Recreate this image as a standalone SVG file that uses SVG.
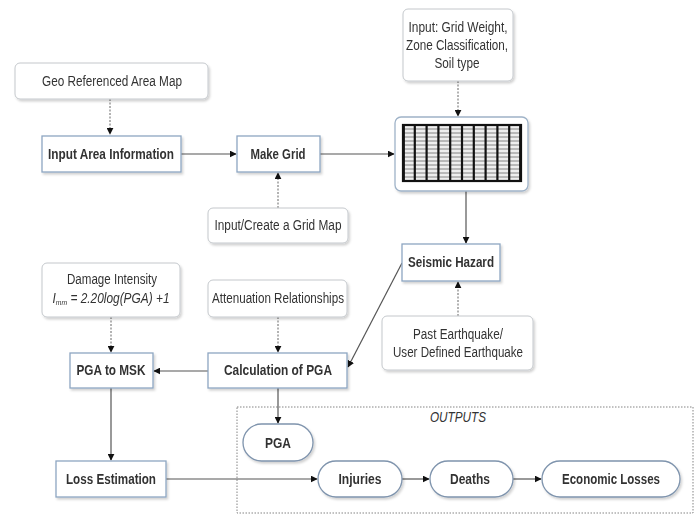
<svg xmlns="http://www.w3.org/2000/svg" width="700" height="515" viewBox="0 0 700 515">
<style>
text{font-family:"Liberation Sans Narrow","Liberation Sans",Arial,sans-serif;fill:#333;text-anchor:middle}
.in{font-size:14px}
.b{font-size:14px;font-weight:bold}
.it{font-style:italic}
.inbox{fill:#fff;stroke:#c4c8cc;stroke-width:1}
.proc{fill:#fff;stroke:#8ea6c2;stroke-width:1.3}
.pill{fill:#fff;stroke:#7f94ad;stroke-width:1.3}
.c{fill:none;stroke:#555;stroke-width:1.2}
.d{fill:none;stroke:#666;stroke-width:1;stroke-dasharray:2 1.5}
.out{fill:none;stroke:#777;stroke-width:0.9;stroke-dasharray:1.5 1.5}
</style>
<defs>
<marker id="ah" viewBox="0 0 10 10" refX="9" refY="5" markerWidth="7" markerHeight="7" markerUnits="userSpaceOnUse" orient="auto">
<path d="M0,0 L10,5 L0,10 z" fill="#111"/>
</marker>
<filter id="ds" x="-10%" y="-10%" width="130%" height="140%">
<feDropShadow dx="1.5" dy="2" stdDeviation="1.2" flood-color="#000" flood-opacity="0.18"/>
</filter>
</defs>
<rect width="700" height="515" fill="#fff"/>

<g id="outputs-frame">
<rect class="out" x="237" y="407" width="456" height="106"/>
<text class="in it" x="458" y="422" textLength="56" lengthAdjust="spacingAndGlyphs">OUTPUTS</text>
</g>

<g id="connectors">
<path class="d" d="M110,99 V134" marker-end="url(#ah)"/>
<path class="c" d="M181,154 H236" marker-end="url(#ah)"/>
<path class="c" d="M320,154 H394" marker-end="url(#ah)"/>
<path class="d" d="M278,208 V173" marker-end="url(#ah)"/>
<path class="d" d="M458,81 V116" marker-end="url(#ah)"/>
<path class="c" d="M466,191 V243" marker-end="url(#ah)"/>
<path class="d" d="M458,316 V282" marker-end="url(#ah)"/>
<path class="c" d="M402,263 L348,367" marker-end="url(#ah)"/>
<path class="d" d="M278,317 V352" marker-end="url(#ah)"/>
<path class="d" d="M111,317 V352" marker-end="url(#ah)"/>
<path class="c" d="M208,371 H154" marker-end="url(#ah)"/>
<path class="c" d="M111,388 V460" marker-end="url(#ah)"/>
<path class="c" d="M278,388 V423" marker-end="url(#ah)"/>
<path class="c" d="M166,479 H317" marker-end="url(#ah)"/>
<path class="c" d="M402,479 H429" marker-end="url(#ah)"/>
<path class="c" d="M513,479 H541" marker-end="url(#ah)"/>
</g>

<g id="geo-map" filter="url(#ds)">
<rect class="inbox" x="15" y="63" width="193" height="36" rx="5"/>
<text class="in" x="112" y="86" textLength="140" lengthAdjust="spacingAndGlyphs">Geo Referenced Area Map</text>
</g>

<g id="input-area" filter="url(#ds)">
<rect class="proc" x="42" y="136" width="139" height="36"/>
<text class="b" x="111" y="159" textLength="126" lengthAdjust="spacingAndGlyphs">Input Area Information</text>
</g>

<g id="make-grid" filter="url(#ds)">
<rect class="proc" x="237" y="136" width="83" height="36"/>
<text class="b" x="278" y="159" textLength="55" lengthAdjust="spacingAndGlyphs">Make Grid</text>
</g>

<g id="grid-map-input" filter="url(#ds)">
<rect class="inbox" x="208" y="208" width="140" height="35" rx="5"/>
<text class="in" x="278" y="230" textLength="127" lengthAdjust="spacingAndGlyphs">Input/Create a Grid Map</text>
</g>

<g id="grid-weight-input" filter="url(#ds)">
<rect class="inbox" x="403" y="9" width="110" height="72" rx="5"/>
<text class="in" x="458" y="32" textLength="99" lengthAdjust="spacingAndGlyphs">Input: Grid Weight,</text>
<text class="in" x="457" y="50" textLength="102" lengthAdjust="spacingAndGlyphs">Zone Classification,</text>
<text class="in" x="457" y="68" textLength="45" lengthAdjust="spacingAndGlyphs">Soil type</text>
</g>

<g id="grid">
<rect class="proc" x="395" y="117" width="133" height="74" rx="6" filter="url(#ds)" style="stroke:#9fb3c8"/>
<rect x="403" y="125" width="118" height="56" fill="#eee"/>
<path fill="none" stroke="#777" stroke-width="0.9" d="M403,129H521M403,133H521M403,137H521M403,141H521M403,145H521M403,149H521M403,153H521M403,157H521M403,161H521M403,165H521M403,169H521M403,173H521M403,177H521"/>
<path fill="none" stroke="#111" stroke-width="2.2" d="M403.8,125V181M414.8,125V181M426.6,125V181M438.4,125V181M450.2,125V181M462,125V181M473.8,125V181M485.6,125V181M497.4,125V181M509.2,125V181M520.2,125V181"/>
<rect x="403" y="125" width="118" height="56" fill="none" stroke="#111" stroke-width="2.2"/>
</g>

<g id="seismic-hazard" filter="url(#ds)">
<rect class="proc" x="402" y="244" width="98" height="37"/>
<text class="b" x="451" y="267" textLength="86" lengthAdjust="spacingAndGlyphs">Seismic Hazard</text>
</g>

<g id="past-earthquake" filter="url(#ds)">
<rect class="inbox" x="382" y="316" width="151" height="54" rx="5"/>
<text class="in" x="458" y="339" textLength="90" lengthAdjust="spacingAndGlyphs">Past Earthquake/</text>
<text class="in" x="458" y="357" textLength="130" lengthAdjust="spacingAndGlyphs">User Defined Earthquake</text>
</g>

<g id="damage-intensity" filter="url(#ds)">
<rect class="inbox" x="42" y="263" width="138" height="54" rx="5"/>
<text class="in" x="112" y="284" textLength="90" lengthAdjust="spacingAndGlyphs">Damage Intensity</text>
<text class="in it" x="111" y="303" textLength="117" lengthAdjust="spacingAndGlyphs">I<tspan font-size="8" dy="2">mm</tspan><tspan dy="-2"> = 2.20log(PGA) +1</tspan></text>
</g>

<g id="attenuation" filter="url(#ds)">
<rect class="inbox" x="208" y="280" width="139" height="37" rx="5"/>
<text class="in" x="278" y="303" textLength="132" lengthAdjust="spacingAndGlyphs">Attenuation Relationships</text>
</g>

<g id="pga-to-msk" filter="url(#ds)">
<rect class="proc" x="70" y="353" width="83" height="35"/>
<text class="b" x="111" y="375" textLength="69" lengthAdjust="spacingAndGlyphs">PGA to MSK</text>
</g>

<g id="calc-pga" filter="url(#ds)">
<rect class="proc" x="208" y="353" width="139" height="35"/>
<text class="b" x="278" y="375" textLength="108" lengthAdjust="spacingAndGlyphs">Calculation of PGA</text>
</g>

<g id="loss-estimation" filter="url(#ds)">
<rect class="proc" x="56" y="461" width="110" height="36"/>
<text class="b" x="111" y="484" textLength="90" lengthAdjust="spacingAndGlyphs">Loss Estimation</text>
</g>

<g id="pga-out" filter="url(#ds)">
<rect class="pill" x="243" y="424" width="70" height="37" rx="18.5"/>
<text class="b" x="278" y="448" textLength="26" lengthAdjust="spacingAndGlyphs">PGA</text>
</g>

<g id="injuries" filter="url(#ds)">
<rect class="pill" x="318" y="461" width="84" height="36" rx="18"/>
<text class="b" x="360" y="484" textLength="43" lengthAdjust="spacingAndGlyphs">Injuries</text>
</g>

<g id="deaths" filter="url(#ds)">
<rect class="pill" x="430" y="461" width="83" height="36" rx="18"/>
<text class="b" x="470" y="484" textLength="40" lengthAdjust="spacingAndGlyphs">Deaths</text>
</g>

<g id="economic-losses" filter="url(#ds)">
<rect class="pill" x="542" y="461" width="138" height="36" rx="18"/>
<text class="b" x="611" y="484" textLength="98" lengthAdjust="spacingAndGlyphs">Economic Losses</text>
</g>
</svg>
